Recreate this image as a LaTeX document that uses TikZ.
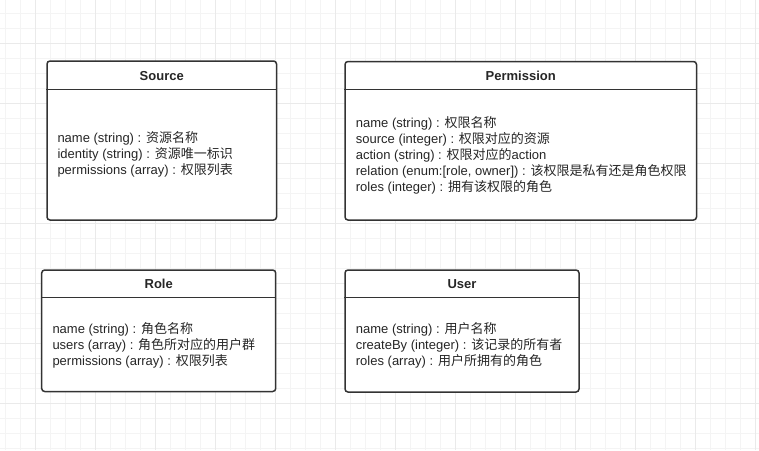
\documentclass[tikz,border=0pt]{standalone}
\usepackage{fontspec}
\setmainfont{Liberation Sans}
\newfontfamily\cjk{Noto Sans CJK SC}
\newcommand{\zh}[1]{{\cjk #1}}
\definecolor{boxline}{HTML}{333333}
\definecolor{gridminor}{HTML}{F4F4F4}
\definecolor{gridmajor}{HTML}{EAEAEA}
\begin{document}
\begin{tikzpicture}[x=1pt,y=-1pt]
        \tikzstyle{gridline}=[draw=gridminor,line width=0.8pt]
        \tikzstyle{gridmain}=[draw=gridmajor,line width=0.8pt]
        \tikzstyle{classbox}=[draw=boxline,line width=1.5pt,rounded corners=3pt,fill=white,inner sep=0pt]
        \tikzstyle{classname}=[font=\fontsize{13}{16}\selectfont\bfseries,text=black!85,inner sep=0pt]
        \tikzstyle{attrs}=[font=\fontsize{13}{16}\selectfont,text=black!85,align=left,anchor=west,inner sep=0pt]
        \tikzstyle{divider}=[draw=boxline,line width=1.5pt]
        \useasboundingbox (0,0) rectangle (759,450);
        % background grid
        \begin{scope}
            \foreach \gx in {5,20,...,755} \path[gridline] (\gx,0) -- (\gx,450);
            \foreach \gy in {13.3,28.3,...,450} \path[gridline] (0,\gy) -- (759,\gy);
            \foreach \gx in {35,95,...,755} \path[gridmain] (\gx,0) -- (\gx,450);
            \foreach \gy in {43.3,103.3,...,450} \path[gridmain] (0,\gy) -- (759,\gy);
        \end{scope}
        % classes
        \begin{scope}
            \node [classbox,minimum width=229.5,minimum height=159] (src) at (161.75,140.5) {};
            \node [classbox,minimum width=351.5,minimum height=158.5] (perm) at (520.75,140.75) {};
            \node [classbox,minimum width=234,minimum height=121.5] (role) at (158.7,330.75) {};
            \node [classbox,minimum width=234,minimum height=122] (user) at (462,331) {};
            \path[divider] ([yshift=-29pt]src.north west) -- ([yshift=-29pt]src.north east);
            \path[divider] ([yshift=-28.5pt]perm.north west) -- ([yshift=-28.5pt]perm.north east);
            \path[divider] ([yshift=-28.3pt]role.north west) -- ([yshift=-28.3pt]role.north east);
            \path[divider] ([yshift=-28pt]user.north west) -- ([yshift=-28pt]user.north east);
            \node [classname] (src-t) at (161.75,75.7) {Source};
            \node [classname] (perm-t) at (520.75,75.7) {Permission};
            \node [classname] (role-t) at (158.7,284.3) {Role};
            \node [classname] (user-t) at (462,284.3) {User};
            \node [attrs] (src-b) at (57.3,154.6) {name (string) : \zh{资源名称}\\identity (string) : \zh{资源唯一标识}\\permissions (array) : \zh{权限列表}};
            \node [attrs] (perm-b) at (355.7,155) {name (string) : \zh{权限名称}\\source (integer) : \zh{权限对应的资源}\\action (string) : \zh{权限对应的}action\\relation (enum:[role, owner]) : \zh{该权限是私有还是角色权限}\\roles (integer) : \zh{拥有该权限的角色}};
            \node [attrs] (role-b) at (52.3,345.5) {name (string) : \zh{角色名称}\\users (array) : \zh{角色所对应的用户群}\\permissions (array) : \zh{权限列表}};
            \node [attrs] (user-b) at (355.7,345.2) {name (string) : \zh{用户名称}\\createBy (integer) : \zh{该记录的所有者}\\roles (array) : \zh{用户所拥有的角色}};
        \end{scope}
\end{tikzpicture}
\end{document}
